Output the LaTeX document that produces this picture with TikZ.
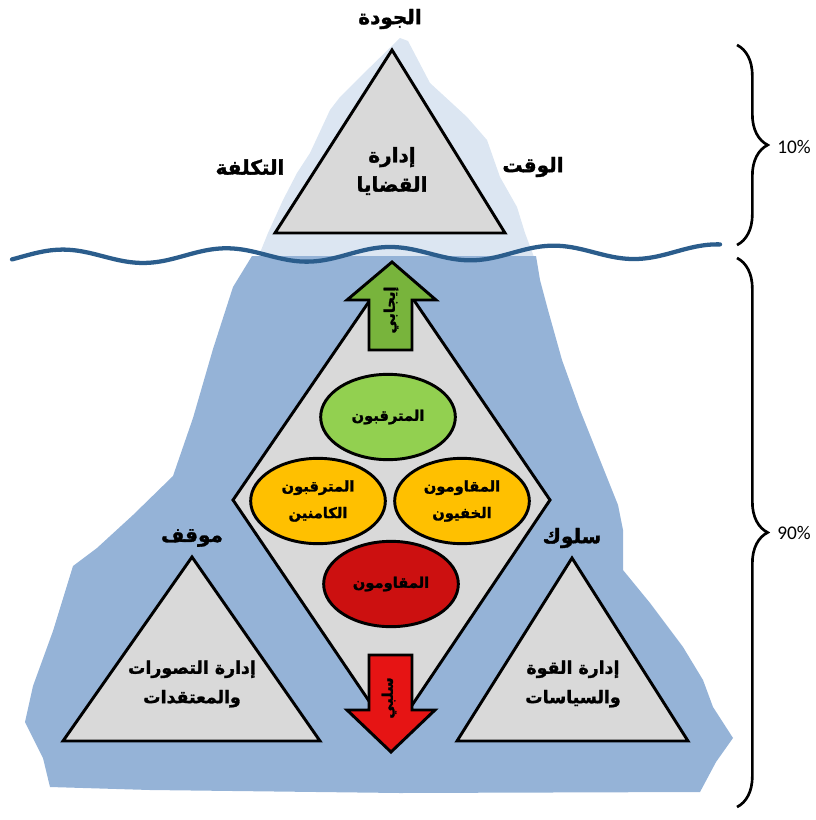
\documentclass[tikz,border=0pt]{standalone}
\usepackage{fontspec}
\usetikzlibrary{shapes.geometric,decorations.pathreplacing}
\TeXXeTstate=1
\newfontfamily\arabicfont[Script=Arabic,BoldFeatures={FakeBold=1.6}]{DejaVu Sans}
\newfontfamily\pctfont{Carlito}
\newcommand{\rl}[1]{\beginR#1\endR}

\definecolor{iceTop}{HTML}{DCE6F2}
\definecolor{iceDeep}{HTML}{95B3D7}
\definecolor{seaLine}{HTML}{2B5D8C}
\definecolor{boxGray}{HTML}{D9D9D9}
\definecolor{upGreen}{HTML}{78B43C}
\definecolor{grpGreen}{HTML}{92D050}
\definecolor{grpYellow}{HTML}{FFC000}
\definecolor{grpRed}{HTML}{CC1010}
\definecolor{downRed}{HTML}{E61414}

\begin{document}
\begin{tikzpicture}[x=0.75pt,y=-0.75pt,
  tri/.style={draw=black,line width=2.2pt,fill=boxGray,line join=miter},
  bigtxt/.style={font=\arabicfont\bfseries\fontsize{15}{22}\selectfont,align=center,inner sep=0pt},
  basetxt/.style={font=\arabicfont\bfseries\fontsize{13}{22}\selectfont,align=center,inner sep=0pt},
  grp/.style={ellipse,draw=black,line width=2.2pt,minimum width=101pt,minimum height=64pt,
    inner sep=0pt,align=center,font=\arabicfont\bfseries\fontsize{11}{20}\selectfont},
  arrowbox/.style={draw=black,line width=2.2pt,line join=miter},
  arrowtxt/.style={rotate=90,inner sep=0pt,font=\arabicfont\bfseries\fontsize{11}{12}\selectfont},
  pct/.style={font=\pctfont\fontsize{14.5}{16}\selectfont,inner sep=0pt},
  brc/.style={decorate,decoration={brace,amplitude=23pt},line width=2pt}]

\useasboundingbox (0,0) rectangle (815,820);

% visible tip of the iceberg
\fill[iceTop] (255,265) -- (268,233) -- (283,200) -- (297,173) -- (310,153) -- (330,110)
  -- (340,97) -- (360,77) -- (400,38) -- (408,41) -- (430,83) -- (467,117) -- (487,140)
  -- (500,177) -- (517,207) -- (525,233) -- (537,265) -- cycle;

% submerged body of the iceberg
\fill[iceDeep] (252,256) -- (536,256) -- (540,280) -- (548,310) -- (562,360) -- (580,410)
  -- (600,460) -- (618,505) -- (623,530) -- (623,570) -- (650,603) -- (683,647)
  -- (703,680) -- (713,707) -- (733,738) -- (716,762) -- (700,792) -- (400,793)
  -- (150,790) -- (50,787) -- (43,758) -- (25,722) -- (33,686) -- (53,631) -- (73,566)
  -- (97,548) -- (133,515) -- (173,476) -- (193,418) -- (213,349) -- (233,287) -- cycle;

% central diamond
\draw[tri] (392,268) -- (550,500) -- (392,735) -- (233,500) -- cycle;

% top triangle
\draw[tri] (392,50) -- (505,233) -- (275,233) -- cycle;

% water surface
\draw[seaLine,line width=3.2pt,line cap=round]
  plot[domain=12:720,samples=240,smooth] (\x,{257-(\x-12)*0.008+7*sin((\x-12)*2.2+160)});

% bottom triangles
\draw[tri] (192,557) -- (320,741) -- (63,741) -- cycle;
\draw[tri] (572,558) -- (688,741) -- (457,741) -- cycle;

% the four groups
\node[grp,fill=grpGreen] (watchers) at (388,417) {\rl{المترقبون}};
\node[grp,fill=grpYellow] (latent) at (318,501) {\rl{المترقبون}\\\rl{الكامنين}};
\node[grp,fill=grpYellow] (hidden) at (462,501) {\rl{المقاومون}\\\rl{الخفيون}};
\node[grp,fill=grpRed] (resisters) at (391,584) {\rl{المقاومون}};

% direction arrows
\draw[arrowbox,fill=upGreen] (392,262) -- (436,300) -- (412,300) -- (412,350) -- (369,350)
  -- (369,300) -- (347,300) -- cycle;
\draw[arrowbox,fill=downRed] (369,655) -- (412,655) -- (412,710) -- (435,710) -- (391,752)
  -- (347,710) -- (369,710) -- cycle;
\node[arrowtxt] (positive) at (391,310) {\rl{إيجابي}};
\node[arrowtxt] (negative) at (389,698) {\rl{سلبي}};

% labels
\node[bigtxt] (quality) at (390,19) {\rl{الجودة}};
\node[bigtxt] (cost) at (250,167) {\rl{التكلفة}};
\node[bigtxt] (time) at (533,167) {\rl{الوقت}};
\node[bigtxt] (issues) at (392,171) {\rl{إدارة}\\\rl{القضايا}};
\node[bigtxt] (attitude) at (192,538) {\rl{موقف}};
\node[bigtxt] (behaviour) at (572,538) {\rl{سلوك}};
\node[basetxt] (beliefs) at (192,684) {\rl{إدارة التصورات}\\\rl{والمعتقدات}};
\node[basetxt] (power) at (573,684) {\rl{إدارة القوة}\\\rl{والسياسات}};

% share above and below the surface
\coordinate (upTop) at (737,45);
\coordinate (upBot) at (737,245);
\coordinate (lowTop) at (737,258);
\coordinate (lowBot) at (737,807);
\draw[brc] (upTop) -- (upBot);
\draw[brc] (lowTop) -- (lowBot);
\node[pct] (above) at (794,147) {10\%};
\node[pct] (below) at (794,533) {90\%};

\end{tikzpicture}
\end{document}
